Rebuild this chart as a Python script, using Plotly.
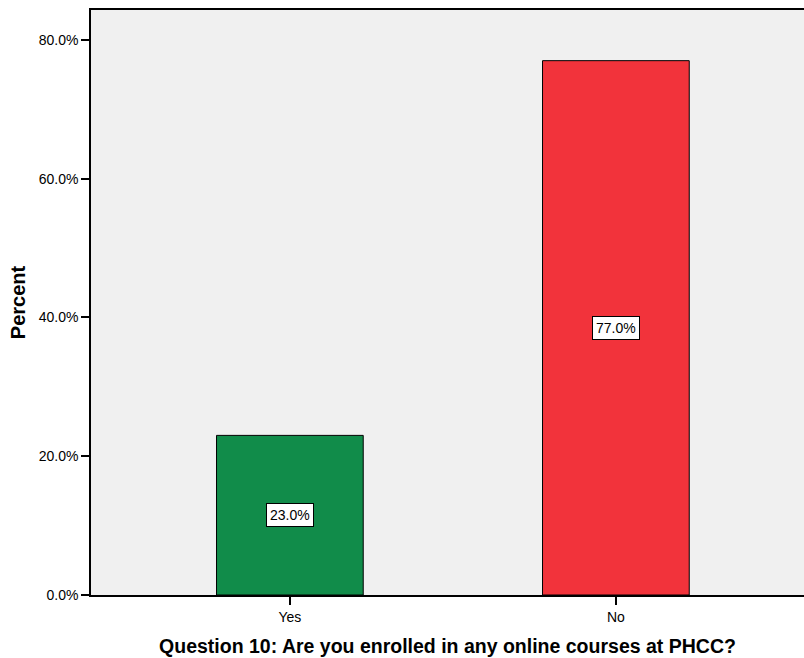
import plotly.graph_objects as go

categories = ["Yes", "No"]
percents = [23.0, 77.0]
bar_colors = ["#118c4a", "#f2333b"]
y_ticks = [0, 20, 40, 60, 80]
y_tick_labels = [f"{v:.1f}%" for v in y_ticks]

FONT = "Liberation Sans, Arial, sans-serif"

fig = go.Figure()
fig.add_trace(go.Bar(
    x=categories,
    y=percents,
    width=0.45,
    marker=dict(color=bar_colors, line=dict(color="black", width=1)),
    hoverinfo="skip",
))

for c, v in zip(categories, percents):
    fig.add_annotation(
        x=c, y=v / 2, text=f"{v:.1f}%", showarrow=False,
        font=dict(family=FONT, size=14, color="black"),
        bgcolor="white", bordercolor="black", borderwidth=1, borderpad=3,
    )

fig.update_layout(
    width=804, height=658,
    margin=dict(l=91, r=0, t=10, b=63),
    paper_bgcolor="white",
    plot_bgcolor="#f0f0f0",
    showlegend=False,
    font=dict(family=FONT, color="black"),
    xaxis=dict(
        range=[-0.61, 1.577],
        showline=True, linecolor="black", linewidth=1.5, mirror=True,
        ticks="outside", ticklen=8, tickcolor="black", tickwidth=1.5,
        tickfont=dict(size=14),
        showgrid=False, zeroline=False,
        title=dict(text="<b>Question 10: Are you enrolled in any online courses at PHCC?</b>",
                   font=dict(size=19.5), standoff=16),
    ),
    yaxis=dict(
        range=[0, 84.3],
        tickmode="array",
        tickvals=y_ticks,
        ticktext=y_tick_labels,
        showline=True, linecolor="black", linewidth=1.5,
        ticks="outside", ticklen=8, tickcolor="black", tickwidth=1.5,
        tickfont=dict(size=14),
        showgrid=False, zeroline=False,
        title=dict(text="<b>Percent</b>", font=dict(size=20), standoff=8),
    ),
)

fig.write_html(
    "out.html",
    config={"responsive": False, "displayModeBar": False},
    post_script="document.body.style.margin='0';document.body.style.overflow='hidden';",
)
